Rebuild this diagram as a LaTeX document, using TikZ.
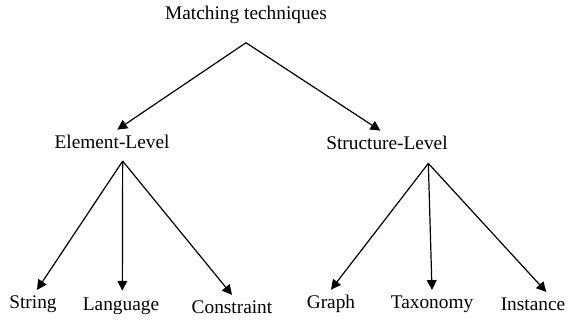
\documentclass[tikz,border=0pt]{standalone}
\usepackage{fontspec}
\setmainfont{Liberation Serif}
\usetikzlibrary{arrows.meta}

\begin{document}
\begin{tikzpicture}[x=0.75pt, y=-0.75pt,
  label/.style={font=\fontsize{14.5}{16}\selectfont, inner sep=1pt},
  arrow/.style={-{Triangle[length=2.6mm, width=2.6mm]}, line width=0.9pt}
]
  \useasboundingbox (0,0) rectangle (579,326);

  \node[label] (root) at (246,15)  {Matching techniques};
  \node[label] (elem) at (112,142) {Element-Level};
  \node[label] (struc) at (387,143) {Structure-Level};

  \node[label] (str)  at (33,304)  {String};
  \node[label] (lang) at (121,306) {Language};
  \node[label] (cons) at (232,307) {Constraint};
  \node[label] (grph) at (331,304) {Graph};
  \node[label] (tax)  at (432,304) {Taxonomy};
  \node[label] (inst) at (533,304) {Instance};

  \draw[arrow] ([yshift=-13pt]root.south) -- ([xshift=4pt,yshift=3pt]elem.north);
  \draw[arrow] ([yshift=-13pt]root.south) -- ([xshift=-5pt,yshift=3pt]struc.north);

  \draw[arrow] ([xshift=8pt,yshift=-8pt]elem.south) -- ([xshift=3pt,yshift=3pt]str.north);
  \draw[arrow] ([xshift=8pt,yshift=-8pt]elem.south) -- ([xshift=1pt,yshift=4pt]lang.north);
  \draw[arrow] ([xshift=8pt,yshift=-8pt]elem.south) -- ([yshift=3pt]cons.north);

  \draw[arrow] ([xshift=31pt,yshift=-9pt]struc.south) -- ([yshift=3pt]grph.north);
  \draw[arrow] ([xshift=31pt,yshift=-9pt]struc.south) -- ([yshift=3pt]tax.north);
  \draw[arrow] ([xshift=31pt,yshift=-9pt]struc.south) -- ([xshift=10pt,yshift=3pt]inst.north);
\end{tikzpicture}
\end{document}
